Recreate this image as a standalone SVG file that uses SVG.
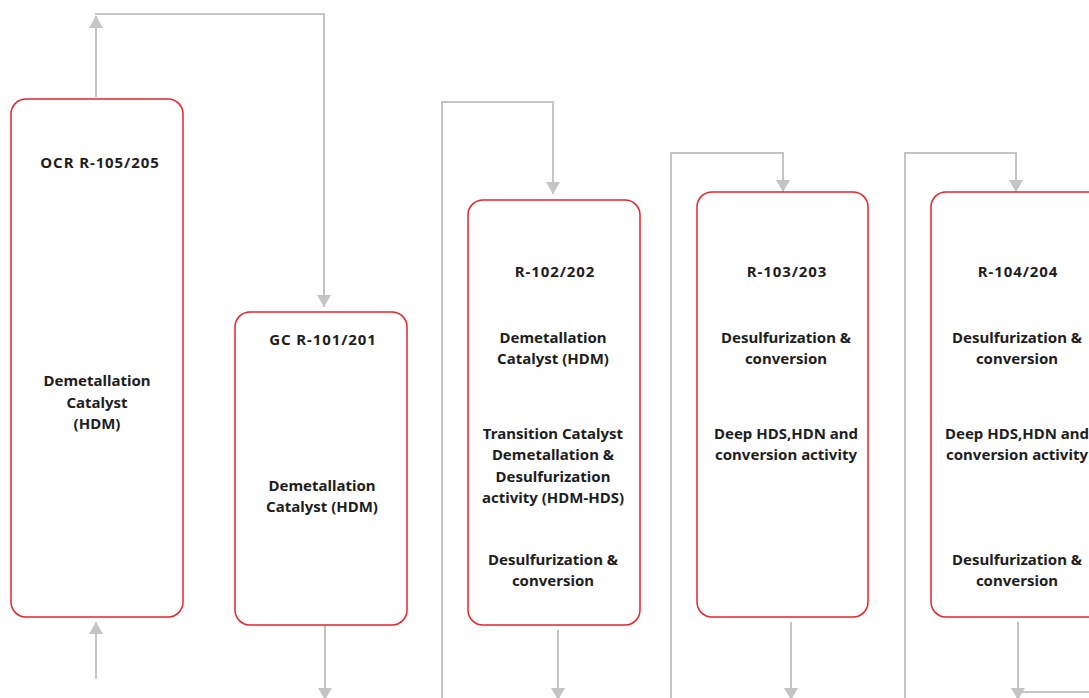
<svg xmlns="http://www.w3.org/2000/svg" width="1089" height="698" viewBox="0 0 1089 698">
<style>
.box{fill:#fff;stroke:#e8232e;stroke-width:1.5}
.ln{fill:none;stroke:#c4c4c6;stroke-width:2}
text{font-family:"Noto Sans","Liberation Sans",sans-serif;font-weight:700;font-size:15px;fill:#1e1e1e;text-anchor:middle}
.t{letter-spacing:0.9px}
</style>
<defs>
<marker id="ah" viewBox="0 0 12 14" refX="12" refY="7" markerWidth="12" markerHeight="14" markerUnits="userSpaceOnUse" orient="auto">
<path d="M0,0 L12,7 L0,14 Z" fill="#c4c4c6"/>
</marker>
</defs>
<rect width="1089" height="698" fill="#fff"/>
<g id="connectors">
<line class="ln" x1="96" y1="679" x2="96" y2="622" marker-end="url(#ah)"/>
<line class="ln" x1="96" y1="97" x2="96" y2="16" marker-end="url(#ah)"/>
<path class="ln" d="M95,14 H324 V307" marker-end="url(#ah)"/>
<line class="ln" x1="325" y1="621" x2="325" y2="700" marker-end="url(#ah)"/>
<path class="ln" d="M442,698 V102 H553 V194" marker-end="url(#ah)"/>
<line class="ln" x1="558" y1="630" x2="558" y2="700" marker-end="url(#ah)"/>
<path class="ln" d="M671,698 V153 H783 V192" marker-end="url(#ah)"/>
<line class="ln" x1="791" y1="622" x2="791" y2="700" marker-end="url(#ah)"/>
<path class="ln" d="M905,698 V153 H1016 V192" marker-end="url(#ah)"/>
<line class="ln" x1="1018" y1="622" x2="1018" y2="700" marker-end="url(#ah)"/>
<line class="ln" x1="1022" y1="692" x2="1089" y2="692"/>
</g>
<g id="ocr">
<rect class="box" x="11" y="99" width="172" height="518" rx="15"/>
<text class="t" x="100" y="168">OCR R-105/205</text>
<text x="97" y="386">Demetallation</text>
<text x="97" y="408">Catalyst</text>
<text x="97" y="429">(HDM)</text>
</g>
<g id="gc">
<rect class="box" x="235" y="312" width="172" height="313" rx="15"/>
<text class="t" x="323" y="345">GC R-101/201</text>
<text x="322" y="491">Demetallation</text>
<text x="322" y="512">Catalyst (HDM)</text>
</g>
<g id="r102">
<rect class="box" x="468" y="200" width="172" height="425" rx="15"/>
<text class="t" x="555" y="277">R-102/202</text>
<text x="553" y="343">Demetallation</text>
<text x="553" y="364">Catalyst (HDM)</text>
<text x="553" y="439">Transition Catalyst</text>
<text x="553" y="460">Demetallation &amp;</text>
<text x="553" y="482">Desulfurization</text>
<text x="553" y="503">activity (HDM-HDS)</text>
<text x="553" y="565">Desulfurization &amp;</text>
<text x="553" y="586">conversion</text>
</g>
<g id="r103">
<rect class="box" x="697" y="192" width="171" height="425" rx="15"/>
<text class="t" x="787" y="277">R-103/203</text>
<text x="786" y="343">Desulfurization &amp;</text>
<text x="786" y="364">conversion</text>
<text x="786" y="439">Deep HDS,HDN and</text>
<text x="786" y="460">conversion activity</text>
</g>
<g id="r104">
<rect class="box" x="931" y="192" width="172" height="425" rx="15"/>
<text class="t" x="1018" y="277">R-104/204</text>
<text x="1017" y="343">Desulfurization &amp;</text>
<text x="1017" y="364">conversion</text>
<text x="1017" y="439">Deep HDS,HDN and</text>
<text x="1017" y="460">conversion activity</text>
<text x="1017" y="565">Desulfurization &amp;</text>
<text x="1017" y="586">conversion</text>
</g>
</svg>
